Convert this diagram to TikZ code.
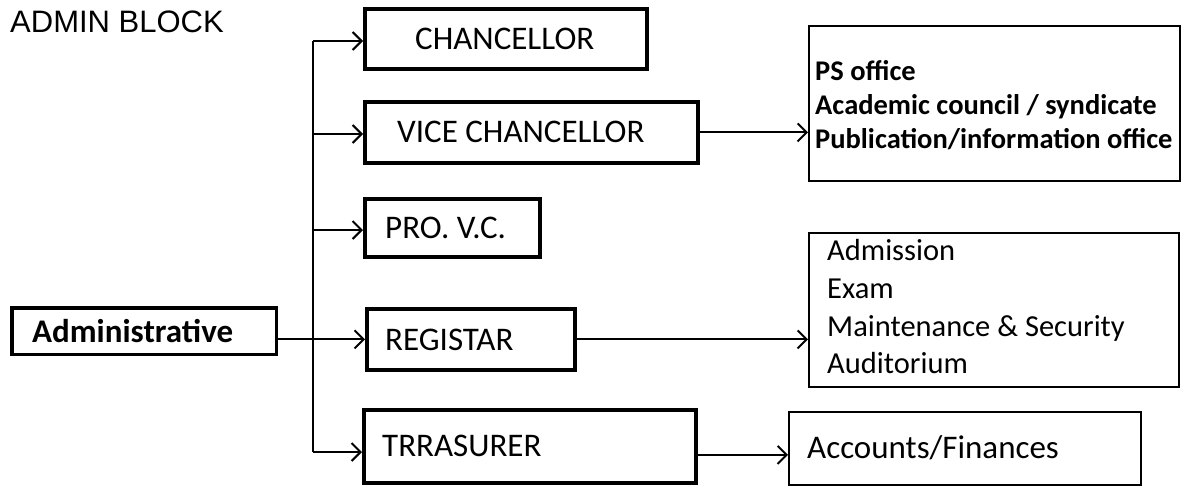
\documentclass[tikz,border=0pt]{standalone}
\usepackage{fontspec}
\setmainfont{Carlito}
\newfontfamily\headfont{Liberation Sans}
\usetikzlibrary{arrows.meta,calc}

\begin{document}
\begin{tikzpicture}[x=1pt,y=-1pt,
  unitbox/.style={draw, line width=3.8pt, inner sep=0pt, anchor=north west},
  listbox/.style={draw, line width=2.4pt, inner sep=0pt, anchor=north west},
  unitlabel/.style={font=\fontsize{33}{38}\selectfont, inner sep=0pt, anchor=west},
  itemline/.style={inner sep=0pt, anchor=base west},
  trunk/.style={line width=2pt},
  link/.style={line width=2pt, -{Straight Barb[length=9pt,width=18pt,line width=2pt]}},
]
\useasboundingbox (0,0) rectangle (1182,488);

% heading
\node[itemline, font=\headfont\fontsize{31}{36}\selectfont] (title) at (10,32) {ADMIN BLOCK};

% root box
\node[unitbox, line width=3.5pt, minimum width=264.5pt, minimum height=46.5pt] (adm) at (10,306) {};
\node[unitlabel, font=\bfseries\fontsize{33}{38}\selectfont] (admtext) at ([xshift=22pt]adm.west) {Administrative};

% office boxes
\node[unitbox, minimum width=282pt, minimum height=60pt] (chan) at (363,7) {};
\node[unitbox, minimum width=333pt, minimum height=61pt] (vc) at (363,100) {};
\node[unitbox, minimum width=175pt, minimum height=58pt] (pro) at (363,197) {};
\node[unitbox, minimum width=208pt, minimum height=61pt] (reg) at (365,307) {};
\node[unitbox, minimum width=332pt, minimum height=73pt] (tre) at (362,408) {};

\node[unitlabel] (chantext) at ([xshift=52pt]chan.west) {CHANCELLOR};
\node[unitlabel] (vctext) at ([xshift=34pt]vc.west) {VICE CHANCELLOR};
\node[unitlabel] (protext) at ([xshift=22pt]pro.west) {PRO. V.C.};
\node[unitlabel] (regtext) at ([xshift=20pt]reg.west) {REGISTAR};
\node[unitlabel] (tretext) at ([xshift=20pt]tre.west) {TRRASURER};

% section boxes
\node[listbox, minimum width=370.6pt, minimum height=154.6pt] (ps) at (808,25) {};
\node[listbox, minimum width=369.6pt, minimum height=153.6pt] (sect) at (808,232) {};
\node[listbox, minimum width=351.6pt, minimum height=72.6pt] (acc) at (788,411) {};

\node[itemline, font=\bfseries\fontsize{28.5}{34}\selectfont] (ps1) at (815,80) {PS office};
\node[itemline, font=\bfseries\fontsize{28.5}{34}\selectfont] (ps2) at (815,114) {Academic council / syndicate};
\node[itemline, font=\bfseries\fontsize{28.5}{34}\selectfont] (ps3) at (815,148) {Publication/information office};

\node[itemline, font=\fontsize{30.5}{37}\selectfont] (s1) at (827,260) {Admission};
\node[itemline, font=\fontsize{30.5}{37}\selectfont] (s2) at (827,298) {Exam};
\node[itemline, font=\fontsize{30.5}{37}\selectfont] (s3) at (827,336) {Maintenance \& Security};
\node[itemline, font=\fontsize{30.5}{37}\selectfont] (s4) at (827,373) {Auditorium};

\node[itemline, font=\fontsize{33}{38}\selectfont] (acctext) at (807,458) {Accounts/Finances};

% branching connectors
\coordinate (t1) at (313,41);
\coordinate (t2) at (313,134);
\coordinate (t3) at (313,230);
\coordinate (t4) at (313,341);
\coordinate (t5) at (313,452);
\draw[trunk] (t1) -- (t5);
\draw[link] (t1) -- (t1 -| chan.west);
\draw[link] (t2) -- (t2 -| vc.west);
\draw[link] (t3) -- (t3 -| pro.west);
\draw[link] (adm.east |- reg.west) -- (reg.west);
\draw[link] (t5) -- (t5 -| tre.west);

\draw[link] (vc.east) -- (vc.east -| ps.west);
\draw[link] (reg.east) -- (reg.east -| sect.west);
\draw[link] ([yshift=-8.5pt]tre.east) -- ([yshift=-8.5pt]tre.east -| acc.west);
\end{tikzpicture}
\end{document}
